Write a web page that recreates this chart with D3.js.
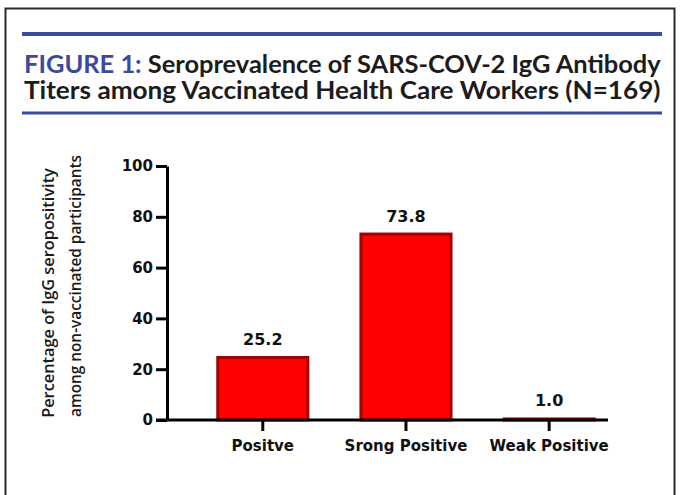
<!DOCTYPE html>
<html>
<head>
<meta charset="utf-8">
<script src="https://cdn.jsdelivr.net/npm/d3@7/dist/d3.min.js"></script>
<style>
  html, body { margin: 0; padding: 0; background: #fff; }
  svg { display: block; }
</style>
</head>
<body>
<svg id="chart" width="680" height="495"></svg>
<script>
// ---- data ----
const categories = ["Positve", "Srong Positive", "Weak Positive"];
const values = [25.2, 73.8, 1.0];
const valueLabels = ["25.2", "73.8", "1.0"];
const yTicks = [0, 20, 40, 60, 80, 100];
const titleLine1Blue = "FIGURE 1:";
const titleLine1Rest = " Seroprevalence of SARS-COV-2 IgG Antibody";
const titleLine2 = "Titers among Vaccinated Health Care Workers (N=169)";
const yTitle = ["Percentage of IgG seropositivity", "among non-vaccinated participants"];

// ---- layout ----
const svg = d3.select("#chart");
const blue = "#3b4a9b";
const ink = "#1c1c1c";

// outer frame
svg.append("rect")
  .attr("x", 5.5).attr("y", 8.5)
  .attr("width", 669).attr("height", 500)
  .attr("fill", "#fff").attr("stroke", "#2a2a2a").attr("stroke-width", 2);

// blue rules
svg.append("line").attr("x1", 22).attr("x2", 662).attr("y1", 34).attr("y2", 34)
  .attr("stroke", blue).attr("stroke-width", 4);
svg.append("line").attr("x1", 22).attr("x2", 662).attr("y1", 113).attr("y2", 113)
  .attr("stroke", blue).attr("stroke-width", 3);

// title, fitted to measured width
function fitText(sel, x0, baseline, targetW) {
  const w = sel.node().getComputedTextLength();
  sel.attr("transform", `translate(${x0},${baseline}) scale(${targetW / w},1)`);
}
const t1 = svg.append("text")
  .attr("font-family", "Lato, 'Open Sans', sans-serif")
  .attr("font-weight", 700).attr("font-size", 25).attr("fill", ink);
t1.append("tspan").attr("fill", blue).text(titleLine1Blue);
t1.append("tspan").text(titleLine1Rest);
fitText(t1, 24, 73, 637);

const t2 = svg.append("text")
  .attr("font-family", "Lato, 'Open Sans', sans-serif")
  .attr("font-weight", 700).attr("font-size", 25).attr("fill", ink)
  .text(titleLine2);
fitText(t2, 24, 98.5, 637);

// scales
const y = d3.scaleLinear().domain([0, 100]).range([420, 166]);
const x = d3.scaleBand().domain(categories)
  .range([167, 608]).paddingInner(0.35).paddingOuter(0.215).align(0.8);

// bars
svg.append("g").selectAll("rect")
  .data(values)
  .join("rect")
  .attr("x", (d, i) => x(categories[i]) + 1.5)
  .attr("width", x.bandwidth() - 3)
  .attr("y", d => y(d) + 1.5)
  .attr("height", d => Math.max(0, y(0) - y(d) - 1.5))
  .attr("fill", "#ff0000")
  .attr("stroke", "#a30000")
  .attr("stroke-width", 3);

// value labels
svg.append("g").selectAll("text")
  .data(values)
  .join("text")
  .attr("x", (d, i) => x(categories[i]) + x.bandwidth() / 2)
  .attr("y", d => y(d) - 11)
  .attr("text-anchor", "middle")
  .attr("font-family", "'DejaVu Sans', sans-serif")
  .attr("font-weight", "bold")
  .attr("font-size", 16)
  .attr("fill", "#111")
  .text((d, i) => valueLabels[i]);

// y axis
const yAxis = svg.append("g")
  .attr("transform", `translate(${x.range()[0]},0)`)
  .call(d3.axisLeft(y).tickValues(yTicks).tickSize(11).tickSizeOuter(0).tickPadding(3));
yAxis.select(".domain").attr("stroke", "#000").attr("stroke-width", 3);
yAxis.selectAll(".tick line").attr("stroke", "#000").attr("stroke-width", 3);
yAxis.selectAll(".tick text")
  .attr("font-family", "'DejaVu Sans', sans-serif")
  .attr("font-weight", "bold").attr("font-size", 15).attr("fill", "#111");

// x axis
const xAxis = svg.append("g")
  .attr("transform", `translate(0,${y(0)})`)
  .call(d3.axisBottom(x).tickSize(11).tickSizeOuter(0).tickPadding(9));
xAxis.select(".domain").attr("stroke", "#000").attr("stroke-width", 3)
  .attr("d", `M${x.range()[0] - 11},0H${x.range()[1]}`);
xAxis.selectAll(".tick line").attr("stroke", "#000").attr("stroke-width", 3);
xAxis.selectAll(".tick text")
  .attr("font-family", "'DejaVu Sans', sans-serif")
  .attr("font-weight", "bold").attr("font-size", 15).attr("fill", "#111");

// y axis title (two rotated lines)
const yt = svg.append("g");
const ytCenters = [293, 286];
const ytBase = [54, 81];
const ytLen = [250, 262];
yTitle.forEach((s, i) => {
  const t = yt.append("text")
    .attr("font-family", "'Open Sans', sans-serif")
    .attr("font-weight", 600)
    .attr("font-size", 15.5).attr("fill", "#1a1a1a")
    .attr("text-anchor", "middle")
    .text(s);
  const w = t.node().getComputedTextLength();
  t.attr("transform", `translate(${ytBase[i]},${ytCenters[i]}) rotate(-90) scale(${ytLen[i] / w},1)`);
});
</script>
</body>
</html>
